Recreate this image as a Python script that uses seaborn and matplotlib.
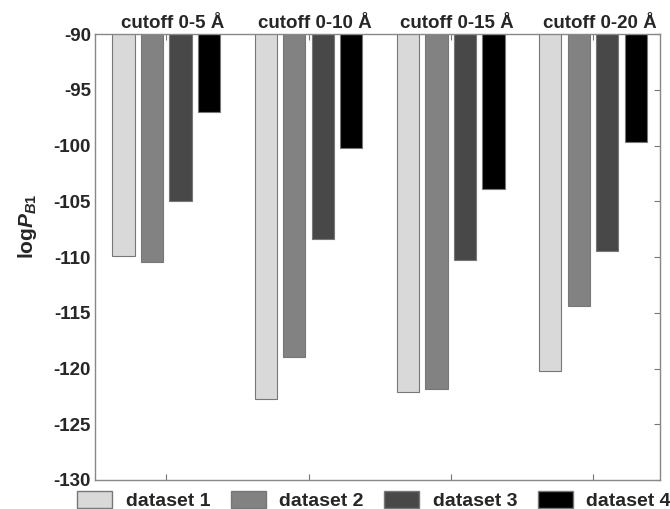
import numpy as np
import pandas as pd
import matplotlib
matplotlib.use('Agg')
import matplotlib.pyplot as plt
import matplotlib.patches as mpatches
import seaborn as sns

# values
cutoffs = ['cutoff 0-5 Å', 'cutoff 0-10 Å', 'cutoff 0-15 Å', 'cutoff 0-20 Å']
datasets = ['dataset 1', 'dataset 2', 'dataset 3', 'dataset 4']
dataset1 = [-109.9, -122.7, -122.1, -120.2]
dataset2 = [-110.4, -119.0, -121.8, -114.4]
dataset3 = [-105.0, -108.4, -110.3, -109.5]
dataset4 = [-97.0, -100.2, -103.9, -99.7]
colors = ['#d9d9d9', '#828282', '#484848', '#000000']

rows = []
for name, vals in zip(datasets, [dataset1, dataset2, dataset3, dataset4]):
    for c, v in zip(cutoffs, vals):
        rows.append({'cutoff': c, 'dataset': name, 'value': v})
df = pd.DataFrame(rows)

sns.set_style('white')
plt.rcParams['font.family'] = ['Liberation Sans', 'DejaVu Sans']
plt.rcParams['font.weight'] = 'bold'
plt.rcParams['axes.unicode_minus'] = False
plt.rcParams['mathtext.fontset'] = 'custom'
plt.rcParams['mathtext.it'] = 'Liberation Sans:italic:bold'
plt.rcParams['mathtext.rm'] = 'Liberation Sans:bold'

fig = plt.figure(figsize=(6.7, 5.09), dpi=100)
ax = fig.add_axes([0.142, 0.057, 0.843, 0.876])

sns.barplot(data=df, x='cutoff', y='value', hue='dataset', palette=colors,
            gap=0.22, edgecolor='#777777', linewidth=0.8, legend=False, ax=ax)

ax.set_ylim(-130, -90)
ax.set_xlim(-0.5, 3.47)
ax.set_yticks(np.arange(-130, -89, 5))
ax.tick_params(axis='y', labelsize=13.5, direction='in', right=True, length=4,
               color='#777777', pad=3)
ax.tick_params(axis='x', direction='in', top=True, bottom=True, labelbottom=False,
               length=4, color='#777777')
for lab in ax.get_yticklabels():
    lab.set_fontweight('bold')
ax.set_xlabel('')
ax.set_ylabel(r'log$P_{B1}$', fontsize=15, fontweight='bold')
ax.yaxis.set_label_coords(-0.1, 0.57)
for sp in ax.spines.values():
    sp.set_color('#888888')
    sp.set_linewidth(1.0)

for i, c in enumerate(cutoffs):
    ax.text(i + 0.045, -89.85, c, ha='center', va='bottom', fontsize=13.5, fontweight='bold')

handles = [mpatches.Patch(facecolor=col, edgecolor='#777777', label=d)
           for col, d in zip(colors, datasets)]
fig.legend(handles=handles, loc='upper left', bbox_to_anchor=(0.115, 0.036), ncol=4,
           frameon=False, prop={'weight': 'bold', 'size': 14}, borderpad=0,
           borderaxespad=0, handlelength=1.8, handleheight=1.0,
           columnspacing=1.05, handletextpad=0.7)

fig.savefig('out.png', dpi=100)
